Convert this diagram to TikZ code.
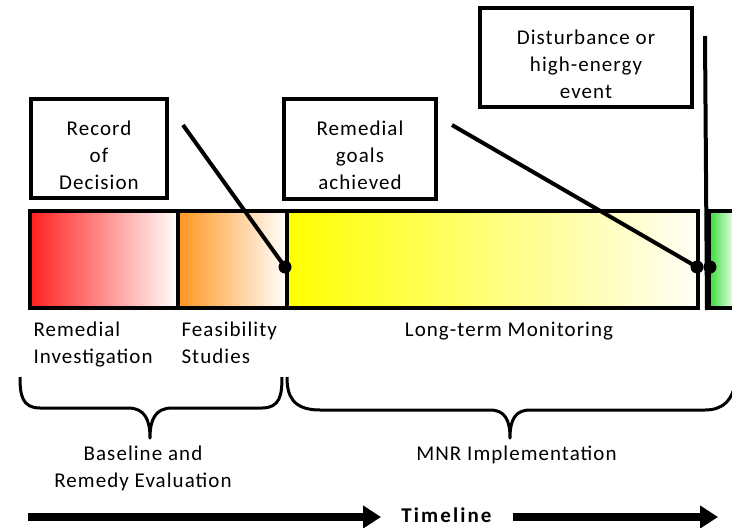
\documentclass[tikz,border=0pt]{standalone}
\usepackage{fontspec}
\setmainfont{Carlito}[LetterSpace=5]
\usetikzlibrary{arrows.meta}
\definecolor{cred}{RGB}{255,32,32}
\definecolor{corange}{RGB}{255,150,30}
\definecolor{cyellow}{RGB}{255,255,0}
\definecolor{cgreen}{RGB}{50,220,50}
\definecolor{cpale}{RGB}{255,254,246}
\newcommand\firstlinestrut{\rule{0pt}{28pt}}
\begin{document}
\begin{tikzpicture}[x=1pt,y=-1pt,
  every node/.style={font=\fontsize{21}{27}\selectfont},
  callout/.style={draw, line width=4pt, inner sep=0pt, align=center},
  seg/.style={draw, line width=4pt, inner sep=0pt, minimum height=97pt},
  dot/.style={circle, fill=black, inner sep=0pt, minimum size=13pt},
  conn/.style={line width=4pt},
  brace/.style={line width=3pt, line join=round},
  tarrow/.style={line width=8pt, -{Triangle[length=18pt,width=22pt]}}
]
\useasboundingbox (0,0) rectangle (732,528);
\fill[white] (0,0) rectangle (732,528);

% bar segments
\node[seg, minimum width=148pt, left color=cred, right color=white] (ri) at (104,259.5) {};
\node[seg, minimum width=109pt, left color=corange, right color=white] (fs) at (232.5,259.5) {};
\node[seg, minimum width=411pt, left color=cyellow, right color=cpale] (lm) at (492.5,259.5) {};
\node[seg, minimum width=27pt, left color=cgreen, right color=white] (gr) at (722.5,259.5) {};

% callouts
\node[callout, minimum width=136pt, minimum height=99pt] (rod) at (99,148.5) {\firstlinestrut Record\\of\\Decision};
\node[callout, minimum width=152pt, minimum height=100pt] (rga) at (360,149) {\firstlinestrut Remedial\\goals\\achieved};
\node[callout, minimum width=212pt, minimum height=99pt] (dist) at (586,57.5) {\firstlinestrut Disturbance or\\high-energy\\event};

% dots
\node[dot] (d1) at (285,267) {};
\node[dot] (d2) at (697,267) {};
\node[dot] (d3) at (710,267) {};

\coordinate (rodt) at (183,125);
\coordinate (rgat) at (452,125);
\coordinate (distt) at (705,36);
\draw[conn] (rodt) -- (d1.center);
\draw[conn] (rgat) -- (d2.center);
\draw[conn] (distt) -- (gr.south west);

% labels under bar
\node[anchor=base west, align=left] (lri) at (30,363) {Remedial\\Investigation};
\node[anchor=base west, align=left] (lfs) at (178,363) {Feasibility\\Studies};
\node[anchor=base] (llm) at (509,336) {Long-term Monitoring};

% braces
\draw[brace] (20,377) .. controls (20,395) and (22,408) .. (40,408) -- (128,408)
  .. controls (145,408) and (150,420) .. (150,438)
  .. controls (150,420) and (155,408) .. (172,408) -- (262,408)
  .. controls (280,408) and (282,395) .. (282,377);
\draw[brace] (287,377) .. controls (287,395) and (292,410) .. (320,410) -- (490,410)
  .. controls (505,410) and (510,420) .. (510,438)
  .. controls (510,420) and (515,410) .. (530,410) -- (705,410)
  .. controls (725,410) and (732,398) .. (735,385);

\node[anchor=base, align=center] (bre) at (143,487) {Baseline and\\Remedy Evaluation};
\node[anchor=base] (mnr) at (516.5,460) {MNR Implementation};

% timeline
\node[anchor=base, font=\fontsize{21}{27}\selectfont\bfseries\addfontfeature{LetterSpace=10}] (tl) at (446.5,522) {Timeline};
\coordinate (t1s) at (28,517);
\coordinate (t1e) at (381,517);
\coordinate (t2s) at (513,517);
\coordinate (t2e) at (718,517);
\draw[tarrow] (t1s) -- (t1e);
\draw[tarrow] (t2s) -- (t2e);
\end{tikzpicture}
\end{document}
